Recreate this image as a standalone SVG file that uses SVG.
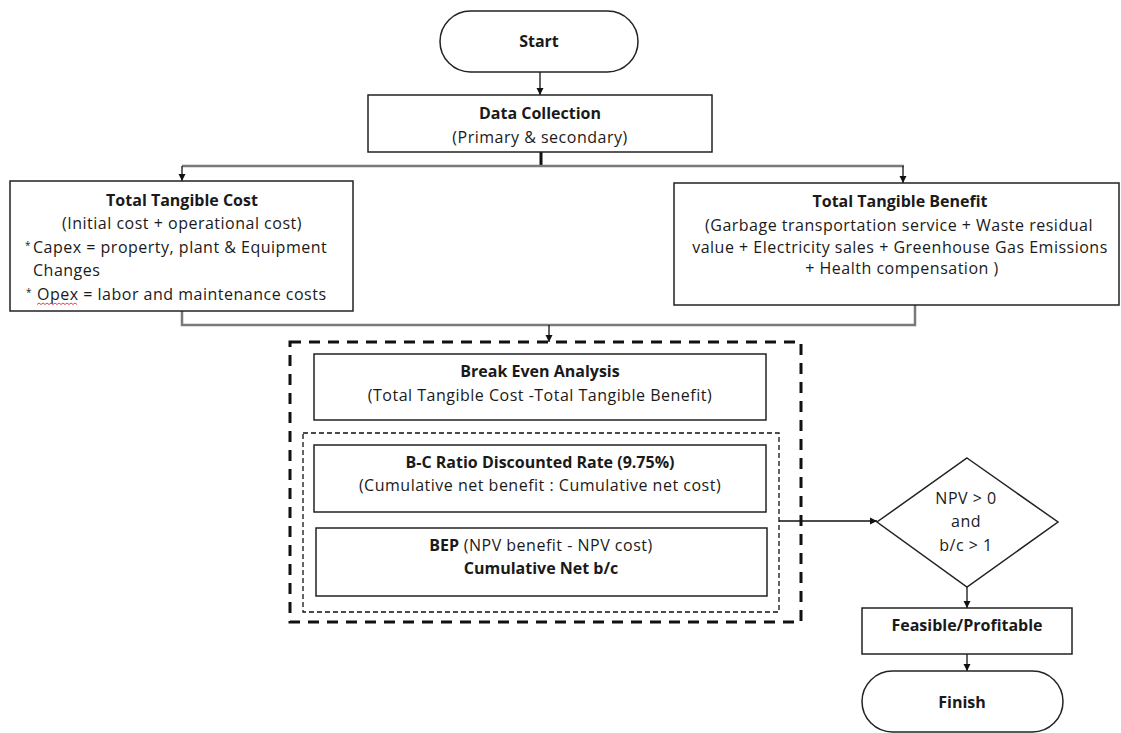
<svg xmlns="http://www.w3.org/2000/svg" width="1121" height="733" viewBox="0 0 1121 733">
<style>
.box{fill:#fff;stroke:#222;stroke-width:1.5}
.t{font-family:"Open Sans","Noto Sans","Liberation Sans",sans-serif;font-size:16px;fill:#1a1a1a;letter-spacing:0.5px}
.b{font-weight:bold;letter-spacing:0}
.c{text-anchor:middle}
.ast{font-size:10px}
.ln{fill:none;stroke:#111;stroke-width:1.3}
.gl{fill:none;stroke:#7a7a7a;stroke-width:2.5}
</style>
<defs>
<marker id="ah" markerWidth="8" markerHeight="8" refX="7" refY="4" orient="auto" markerUnits="userSpaceOnUse">
<path d="M0,0.5 L7,4 L0,7.5 Z" fill="#111"/>
</marker>
</defs>
<rect width="1121" height="733" fill="#fff"/>

<g id="connectors">
<line class="ln" x1="540" y1="72" x2="540" y2="95" marker-end="url(#ah)"/>
<line x1="541" y1="152" x2="541" y2="166" stroke="#111" stroke-width="3"/>
<line class="gl" x1="182" y1="166" x2="904" y2="166"/>
<line class="ln" x1="182" y1="166" x2="182" y2="181" marker-end="url(#ah)"/>
<line class="ln" x1="903" y1="166" x2="903" y2="183" marker-end="url(#ah)"/>
<polyline class="gl" points="182,311 182,325 915,325 915,305"/>
<line class="ln" x1="549" y1="325" x2="549" y2="342" marker-end="url(#ah)"/>
<line class="ln" x1="779" y1="521" x2="877" y2="521" marker-end="url(#ah)"/>
<line class="ln" x1="967" y1="587" x2="967" y2="608" marker-end="url(#ah)"/>
<line class="ln" x1="967" y1="654" x2="967" y2="671" marker-end="url(#ah)"/>
</g>

<g id="start">
<rect class="box" x="440" y="11" width="198" height="61" rx="30.5"/>
<text class="t b c" x="539" y="47">Start</text>
</g>

<g id="data-collection">
<rect class="box" x="368" y="95" width="344" height="57"/>
<text class="t b c" x="540" y="119">Data Collection</text>
<text class="t c" x="540" y="143">(Primary &amp; secondary)</text>
</g>

<g id="total-tangible-cost">
<rect class="box" x="10" y="181" width="343" height="130"/>
<text class="t b c" x="182" y="206">Total Tangible Cost</text>
<text class="t c" x="182" y="229">(Initial cost + operational cost)</text>
<text class="t ast" x="25" y="249">*</text>
<text class="t" x="33" y="253">Capex = property, plant &amp; Equipment</text>
<text class="t" x="33" y="276">Changes</text>
<text class="t ast" x="26" y="296">*</text>
<text class="t" x="37" y="300">Opex = labor and maintenance costs</text>
<path d="M37,304.5 l2,-1.5 l2,1.5 l2,-1.5 l2,1.5 l2,-1.5 l2,1.5 l2,-1.5 l2,1.5 l2,-1.5 l2,1.5 l2,-1.5 l2,1.5 l2,-1.5 l2,1.5 l2,-1.5 l2,1.5 l2,-1.5 l2,1.5 l2,-1.5 l2,1.5" fill="none" stroke="#e03030" stroke-width="0.9"/>
</g>

<g id="total-tangible-benefit">
<rect class="box" x="674" y="183" width="445" height="122"/>
<text class="t b c" x="900" y="207">Total Tangible Benefit</text>
<text class="t c" x="899" y="231">(Garbage transportation service + Waste residual</text>
<text class="t c" x="900" y="253">value + Electricity sales + Greenhouse Gas Emissions</text>
<text class="t c" x="902" y="274">+ Health compensation )</text>
</g>

<g id="analysis-group">
<rect x="290" y="342" width="511" height="280" fill="none" stroke="#111" stroke-width="3" stroke-dasharray="11 8"/>
<rect x="303" y="433" width="476" height="179" fill="none" stroke="#111" stroke-width="1.3" stroke-dasharray="5 3"/>
</g>

<g id="break-even">
<rect class="box" x="314" y="354" width="452" height="66"/>
<text class="t b c" x="540" y="377">Break Even Analysis</text>
<text class="t c" x="540" y="401">(Total Tangible Cost -Total Tangible Benefit)</text>
</g>

<g id="bc-ratio">
<rect class="box" x="314" y="445" width="452" height="67"/>
<text class="t b c" x="540" y="468">B-C Ratio Discounted Rate (9.75%)</text>
<text class="t c" x="540" y="491">(Cumulative net benefit : Cumulative net cost)</text>
</g>

<g id="bep">
<rect class="box" x="316" y="528" width="451" height="68"/>
<text class="t c" x="541" y="551"><tspan class="b">BEP</tspan> (NPV benefit - NPV cost)</text>
<text class="t b c" x="541" y="574">Cumulative Net b/c</text>
</g>

<g id="decision">
<polygon class="box" points="967,458 1058,522 967,587 877,522"/>
<text class="t c" x="966" y="504">NPV &gt; 0</text>
<text class="t c" x="966" y="527">and</text>
<text class="t c" x="966" y="551">b/c &gt; 1</text>
</g>

<g id="feasible">
<rect class="box" x="862" y="608" width="210" height="46"/>
<text class="t b c" x="967" y="631">Feasible/Profitable</text>
</g>

<g id="finish">
<rect class="box" x="862" y="671" width="201" height="61" rx="30.5"/>
<text class="t b c" x="962" y="708">Finish</text>
</g>
</svg>
